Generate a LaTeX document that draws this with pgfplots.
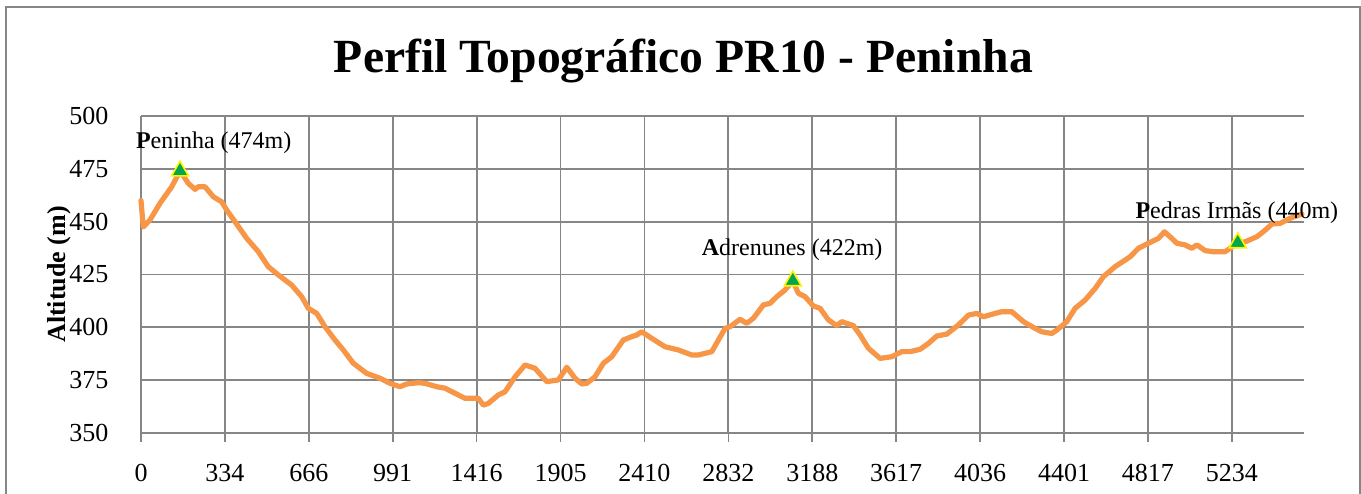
\documentclass[border=0pt]{standalone}
\usepackage{pgfplots}
\pgfplotsset{compat=1.18}
\usepackage{fontspec}
\setmainfont{Liberation Serif}
\definecolor{gridgray}{RGB}{134,134,134}
\definecolor{lineorange}{RGB}{247,150,70}
\definecolor{markgreen}{RGB}{0,166,80}
\begin{document}
\begin{tikzpicture}
\path[use as bounding box] (0,0) rectangle (680.5pt,246.5pt);
\draw[gridgray, line width=0.6pt] (3pt,-10pt) rectangle (680pt,243pt);
\node[anchor=base, font=\fontsize{23.8}{28}\selectfont\bfseries] at (341.7pt,210.2pt) {Perfil Topográfico PR10 - Peninha};
\begin{axis}[
  at={(70.5pt,30pt)}, anchor=south west,
  scale only axis, width=581.5pt, height=158.5pt,
  xmin=0, xmax=13.86, ymin=350, ymax=500,
  xtick={0,...,13},
  xticklabels={0,334,666,991,1416,1905,2410,2832,3188,3617,4036,4401,4817,5234},
  ytick={350,375,400,425,450,475,500},
  axis lines*=left,
  axis line style={gridgray, line width=0.8pt, -},
  grid=major,
  major grid style={gridgray, line width=0.9pt},
  tick align=outside,
  xtick style={gridgray, line width=0.8pt},
  ytick style={draw=none},
  major tick length=4.3pt,
  /pgf/number format/assume math mode=true,
  tick label style={font=\fontsize{13}{15}\selectfont},
  xticklabel style={anchor=base, inner sep=0pt, yshift=-20pt},
  yticklabel style={anchor=east, inner sep=0pt, xshift=-11.8pt},
  ylabel={\textbf{Altitude (m)}},
  ylabel style={at={(axis description cs:-0.0647,0.5)}, rotate=0, anchor=base, font=\fontsize{13}{15}\selectfont},
  clip=false,
]
\addplot[lineorange, line width=2.6pt, line join=round, line cap=round] coordinates {
(0,460) (0.027,447.5) (0.107,450.8) (0.226,458.7) (0.366,466.5) (0.465,474)
(0.564,468.1) (0.644,465.3) (0.683,466.5) (0.763,466.5) (0.862,461.8) (0.962,459.4)
(1.021,455.5) (1.120,450) (1.260,442.1) (1.398,435.8) (1.517,428.7) (1.636,424.8)
(1.796,420) (1.915,414.5) (1.994,409) (2.094,406.6) (2.193,400.3) (2.312,394)
(2.411,389.3) (2.530,383) (2.690,378.2) (2.849,375.9) (2.968,373.5) (3.087,371.9)
(3.167,373.2) (3.305,373.8) (3.385,373.5) (3.524,371.9) (3.623,371.2) (3.742,368.8)
(3.862,366.4) (4.020,366.4) (4.080,363.2) (4.139,364) (4.259,368) (4.338,369.5)
(4.458,376.6) (4.577,382.2) (4.636,381.4) (4.696,380.6) (4.836,374.3) (4.974,375.1)
(5.074,381.1) (5.173,375.9) (5.253,373.2) (5.312,373.5) (5.411,376.6) (5.510,383)
(5.610,386.1) (5.748,394) (5.849,395.6) (5.908,396.4) (5.968,397.9) (6.087,394.8)
(6.246,390.8) (6.404,389.3) (6.564,386.9) (6.642,386.9) (6.802,388.5) (6.881,394)
(6.961,399.5) (7.020,400.3) (7.139,403.8) (7.219,401.9) (7.298,404.3) (7.417,410.6)
(7.497,411.4) (7.577,414.5) (7.676,417.7) (7.768,422) (7.834,416.1) (7.914,414.5)
(8.013,410.1) (8.093,409) (8.192,403.5) (8.292,400.8) (8.351,402.7) (8.490,400.8)
(8.570,396.4) (8.669,390.1) (8.808,385.3) (8.948,386.1) (9.067,388.5) (9.166,388.5)
(9.285,389.6) (9.384,392.4) (9.484,395.9) (9.603,396.8) (9.741,401.1) (9.861,405.8)
(9.961,406.6) (10.039,405) (10.179,406.6) (10.259,407.4) (10.378,407.4) (10.516,402.7)
(10.656,399.5) (10.735,397.9) (10.855,397.1) (10.914,398.7) (11.033,402.7) (11.132,409)
(11.251,412.9) (11.371,418.4) (11.470,424) (11.609,428.7) (11.788,433.4) (11.887,437.4)
(12.006,439.8) (12.125,442.1) (12.197,445.2) (12.285,442.1) (12.345,439.8) (12.443,439)
(12.523,437.4) (12.584,439) (12.682,436.3) (12.781,435.8) (12.920,435.8) (12.980,437.4)
(13.07,440) (13.160,440.5) (13.299,442.9) (13.398,446) (13.478,448.9) (13.576,449.2)
(13.695,451.6) (13.835,453.6)
};
\addplot[only marks, mark=triangle*, mark size=4.9pt,
  mark options={fill=markgreen, draw=yellow, line width=0.8pt}] coordinates {
(0.465,474) (7.768,422) (13.07,440)
};
\node[anchor=base, font=\fontsize{12}{14}\selectfont] at (axis cs:0.866,484.4) {\textbf{P}eninha (474m)};
\node[anchor=base, font=\fontsize{12}{14}\selectfont] at (axis cs:7.76,433.8) {\textbf{A}drenunes (422m)};
\node[anchor=base, font=\fontsize{12}{14}\selectfont] at (axis cs:13.06,451.6) {\textbf{P}edras Irmãs (440m)};
\end{axis}
\end{tikzpicture}
\end{document}
